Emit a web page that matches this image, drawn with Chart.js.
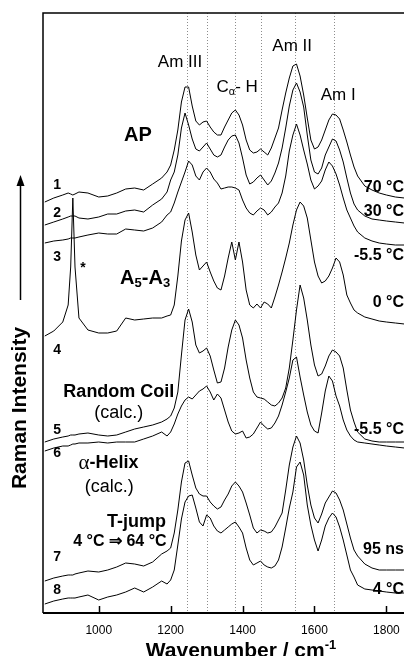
<!DOCTYPE html>
<html>
<head>
<meta charset="utf-8">
<script src="https://cdn.jsdelivr.net/npm/chart.js@4.4.1/dist/chart.umd.min.js"></script>
<style>
  html, body { margin: 0; padding: 0; background: #fff; }
  #wrap { width: 404px; height: 656px; position: relative; }
</style>
</head>
<body>
<div id="wrap"><canvas id="raman"></canvas></div>
<script>
// Raman spectra, intensities in arbitrary offset units
const wavenumbers = [850, 875, 900, 915, 922, 928, 934, 945, 970, 1000, 1025, 1050, 1075, 1100, 1125, 1150, 1175, 1190,
  1200, 1210, 1220, 1230, 1240, 1250, 1260, 1270, 1280, 1290,
  1300, 1310, 1320, 1330, 1340, 1350, 1360, 1370, 1380, 1390,
  1400, 1410, 1420, 1430, 1440, 1450, 1460, 1470, 1480, 1490,
  1500, 1510, 1520, 1530, 1540, 1550, 1560, 1570, 1580, 1590,
  1600, 1610, 1620, 1630, 1640, 1650, 1660, 1670, 1680, 1690,
  1700, 1710, 1720, 1740, 1760, 1780, 1800, 1825, 1850];

const tickValues = [1000, 1200, 1400, 1600, 1800];
const bandLines = [1245, 1300, 1380, 1450, 1545, 1655];

const ap70C = [411, 415, 418, 420, 419, 418, 419, 421, 420, 416, 417, 420, 424, 425, 423, 429, 435, 441,
  448, 463, 483, 511, 526, 526, 507, 492, 488, 491,
  492, 486, 481, 478, 478, 486, 493, 500, 503, 498,
  488, 473, 463, 460, 461, 464, 461, 458, 465, 475,
  485, 503, 520, 535, 547, 549, 537, 518, 495, 473,
  464, 466, 473, 483, 493, 499, 498, 494, 483, 471,
  458, 446, 437, 427, 423, 420, 418, 416, 415];

const ap30C = [388, 391, 394, 396, 397, 397, 397, 395, 394, 396, 399, 399, 402, 403, 401, 408, 414, 421,
  433, 441, 458, 485, 500, 488, 474, 464, 462, 466,
  470, 464, 458, 456, 458, 466, 473, 477, 478, 470,
  455, 438, 429, 431, 435, 438, 433, 428, 432, 440,
  450, 465, 485, 507, 523, 530, 521, 506, 478, 453,
  441, 439, 445, 458, 466, 474, 472, 463, 451, 435,
  420, 409, 403, 397, 394, 393, 392, 391, 390];

const apMinus5C = [370, 372, 373, 374, 375, 375, 375, 376, 378, 380, 379, 379, 384, 383, 382, 385, 391, 398,
  401, 410, 421, 431, 441, 452, 448, 437, 433, 441,
  445, 441, 434, 430, 424, 425, 426, 426, 425, 423,
  413, 405, 400, 398, 402, 405, 403, 398, 401, 406,
  410, 420, 437, 462, 478, 489, 478, 463, 449, 433,
  424, 427, 432, 443, 451, 447, 439, 428, 415, 403,
  395, 387, 381, 375, 372, 370, 369, 368, 368];

const a5a3_0C = [277, 282, 291, 308, 346, 415, 346, 295, 283, 280, 280, 282, 295, 293, 294, 295, 295, 297,
  298, 308, 337, 372, 393, 400, 381, 358, 343, 347,
  351, 341, 332, 325, 323, 337, 355, 371, 353, 371,
  351, 323, 308, 305, 309, 305, 311, 309, 305, 316,
  328, 341, 355, 370, 388, 403, 411, 407, 395, 373,
  351, 337, 330, 332, 337, 345, 355, 351, 338, 318,
  310, 303, 300, 296, 294, 292, 291, 290, 289];

const randomCoil = [171, 174, 176, 177, 178, 178, 178, 179, 180, 178, 177, 178, 181, 184, 186, 188, 191, 194,
  197, 205, 221, 258, 293, 304, 291, 268, 260, 262,
  265, 257, 243, 230, 231, 245, 266, 283, 293, 288,
  275, 253, 235, 221, 216, 215, 214, 211, 208, 207,
  210, 215, 225, 245, 273, 303, 328, 315, 293, 268,
  248, 237, 239, 247, 257, 263, 261, 257, 245, 223,
  203, 191, 181, 174, 172, 171, 171, 171, 171];

const alphaHelix = [162, 165, 167, 167, 168, 169, 169, 170, 170, 171, 170, 171, 171, 171, 174, 177, 181, 177,
  181, 189, 199, 207, 213, 216, 214, 218, 222, 224,
  227, 221, 213, 219, 215, 203, 191, 182, 179, 180,
  182, 175, 176, 179, 185, 191, 187, 184, 185, 190,
  197, 208, 221, 235, 253, 256, 236, 218, 201, 188,
  182, 180, 200, 222, 237, 232, 217, 207, 193, 183,
  177, 173, 171, 170, 169, 168, 167, 166, 165];

const tjump95ns = [32, 35, 37, 38, 38, 38, 39, 40, 42, 41, 43, 46, 50, 49, 47, 51, 59, 62,
  65, 80, 103, 131, 150, 152, 138, 125, 119, 117,
  117, 111, 107, 104, 106, 113, 119, 127, 131, 127,
  121, 110, 98, 85, 80, 83, 82, 80, 81, 86,
  93, 100, 123, 148, 166, 177, 170, 153, 128, 108,
  95, 90, 99, 110, 116, 122, 120, 113, 103, 89,
  75, 63, 57, 49, 45, 43, 43, 43, 43];

const tjump4C = [9, 12, 14, 15, 15, 15, 15, 16, 18, 13, 16, 18, 21, 25, 21, 26, 32, 29,
  33, 43, 68, 94, 111, 117, 118, 105, 91, 87,
  98, 95, 87, 82, 80, 83, 86, 89, 91, 86,
  80, 65, 53, 48, 50, 52, 48, 46, 45, 47,
  53, 66, 85, 105, 121, 146, 151, 138, 108, 88,
  73, 62, 73, 87, 95, 100, 96, 86, 73, 58,
  43, 36, 28, 24, 23, 22, 21, 20, 20];

const traces = [ap70C, ap30C, apMinus5C, a5a3_0C, randomCoil, alphaHelix, tjump95ns, tjump4C];

const SANS = "'Liberation Sans', Arial, sans-serif";
const SERIF = "'Liberation Serif', 'DejaVu Serif', serif";
Chart.defaults.font.family = SANS;
Chart.defaults.color = '#000';

const R17 = '17px ' + SANS, B20 = 'bold 20px ' + SANS, B18 = 'bold 18px ' + SANS;
const R18 = '18px ' + SANS, B16 = 'bold 16px ' + SANS, B14 = 'bold 14px ' + SANS;

// annotations placed in data units [wavenumber, intensity]
const notes = [
  { parts: [['Am III', R17]], at: [1226, 551] },
  { parts: [['C', R17], ['\u03b1', '11px ' + SANS, 5], ['- H', R17]], at: [1385, 526] },
  { parts: [['Am II', R17]], at: [1538, 567] },
  { parts: [['Am I', R17]], at: [1666, 518] },
  { parts: [['AP', B20]], at: [1109, 478] },
  { parts: [['A', B20], ['5', 'bold 13px ' + SANS, 5], ['-A', B20], ['3', 'bold 13px ' + SANS, 5]], at: [1129, 335] },
  { parts: [['*', B14]], at: [956, 345] },
  { parts: [['Random Coil', B18]], at: [1056, 221] },
  { parts: [['(calc.)', R18]], at: [1056, 200] },
  { parts: [['\u03b1', '21px ' + SERIF], ['-Helix', B18]], at: [1027, 150] },
  { parts: [['(calc.)', R18]], at: [1029, 126] },
  { parts: [['T-jump', B18]], at: [1105, 91] },
  { parts: [['4 \u00b0C \u21d2 64 \u00b0C', B16]], at: [1059, 71] }
];
const traceNumbers = [['1', 428], ['2', 400], ['3', 356], ['4', 263], ['5', 183], ['6', 160], ['7', 56], ['8', 23]];
const rightLabels = [['70 \u00b0C', 425], ['30 \u00b0C', 401], ['-5.5 \u00b0C', 357], ['0 \u00b0C', 310],
  ['-5.5 \u00b0C', 183], ['95 ns', 63], ['4 \u00b0C', 23]];

function drawRuns(ctx, parts, px, py, align) {
  let w = 0;
  parts.forEach(p => { ctx.font = p[1]; w += ctx.measureText(p[0]).width; });
  let cx = align === 'left' ? px : align === 'right' ? px - w : px - w / 2;
  parts.forEach(p => {
    ctx.font = p[1];
    ctx.fillText(p[0], cx, py + (p[2] || 0));
    cx += ctx.measureText(p[0]).width;
  });
}

const decor = {
  id: 'decor',
  beforeDatasetsDraw(chart) {
    const { ctx, chartArea: a, scales: { x } } = chart;
    ctx.save();
    ctx.strokeStyle = '#8c8c8c';
    ctx.lineWidth = 1;
    ctx.setLineDash([1, 2]);
    bandLines.forEach(v => {
      const px = Math.round(x.getPixelForValue(v)) + 0.5;
      ctx.beginPath();
      ctx.moveTo(px, a.top);
      ctx.lineTo(px, a.bottom);
      ctx.stroke();
    });
    ctx.restore();
  },
  afterDraw(chart) {
    const { ctx, chartArea: a, scales: { x, y } } = chart;
    ctx.save();
    ctx.strokeStyle = '#000';
    ctx.lineWidth = 1.5;
    ctx.beginPath();
    ctx.moveTo(chart.width, a.top);
    ctx.lineTo(a.left, a.top);
    ctx.lineTo(a.left, a.bottom);
    ctx.stroke();
    ctx.lineWidth = 2;
    ctx.beginPath();
    ctx.moveTo(a.left, a.bottom);
    ctx.lineTo(chart.width, a.bottom);
    ctx.stroke();
    // inner tick marks
    ctx.lineWidth = 1.5;
    tickValues.forEach(v => {
      const px = Math.round(x.getPixelForValue(v)) + 0.5;
      ctx.beginPath();
      ctx.moveTo(px, a.bottom);
      ctx.lineTo(px, a.bottom - 7);
      ctx.stroke();
    });

    ctx.fillStyle = '#000';
    ctx.textBaseline = 'middle';
    ctx.textAlign = 'left';
    notes.forEach(n => drawRuns(ctx, n.parts, x.getPixelForValue(n.at[0]), y.getPixelForValue(n.at[1]), 'center'));
    traceNumbers.forEach(t => drawRuns(ctx, [[t[0], B14]], x.getPixelForValue(884), y.getPixelForValue(t[1]), 'center'));
    rightLabels.forEach(t => drawRuns(ctx, [[t[0], B16]], a.right, y.getPixelForValue(t[1]), 'right'));

    // x title
    ctx.textBaseline = 'alphabetic';
    drawRuns(ctx, [['Wavenumber / cm', 'bold 21px ' + SANS], ['-1', 'bold 13px ' + SANS, -8]], 241, 657, 'center');

    // y title with arrow
    ctx.save();
    ctx.translate(20, 408);
    ctx.rotate(-Math.PI / 2);
    ctx.textBaseline = 'middle';
    drawRuns(ctx, [['Raman Intensity', 'bold 21px ' + SANS]], 0, 0, 'center');
    ctx.restore();
    ctx.lineWidth = 1.5;
    ctx.beginPath();
    ctx.moveTo(20.5, 300);
    ctx.lineTo(20.5, 184);
    ctx.stroke();
    ctx.beginPath();
    ctx.moveTo(20.5, 175);
    ctx.lineTo(16.5, 186);
    ctx.lineTo(24.5, 186);
    ctx.closePath();
    ctx.fill();
    ctx.restore();
  }
};

new Chart(document.getElementById('raman'), {
  type: 'line',
  data: {
    datasets: traces.map(vals => ({
      data: wavenumbers.map((w, i) => ({ x: w, y: vals[i] })),
      borderColor: '#000',
      borderWidth: 1,
      pointRadius: 0,
      fill: false,
      tension: 0
    }))
  },
  options: {
    animation: false,
    responsive: true,
    maintainAspectRatio: false,
    layout: { padding: { left: 43, top: 13, right: 0, bottom: 0 } },
    plugins: { legend: { display: false }, tooltip: { enabled: false } },
    scales: {
      x: {
        type: 'linear',
        min: 845,
        max: 1849,
        grid: { display: false, drawTicks: false },
        border: { display: false },
        ticks: { font: { size: 12 }, color: '#000', padding: 10, callback: v => String(v) },
        afterBuildTicks: s => { s.ticks = tickValues.map(v => ({ value: v })); },
        afterFit: s => { s.height = 43; s.paddingLeft = 0; s.paddingRight = 0; }
      },
      y: { display: false, min: 0, max: 600 }
    }
  },
  plugins: [decor]
});
</script>
</body>
</html>
